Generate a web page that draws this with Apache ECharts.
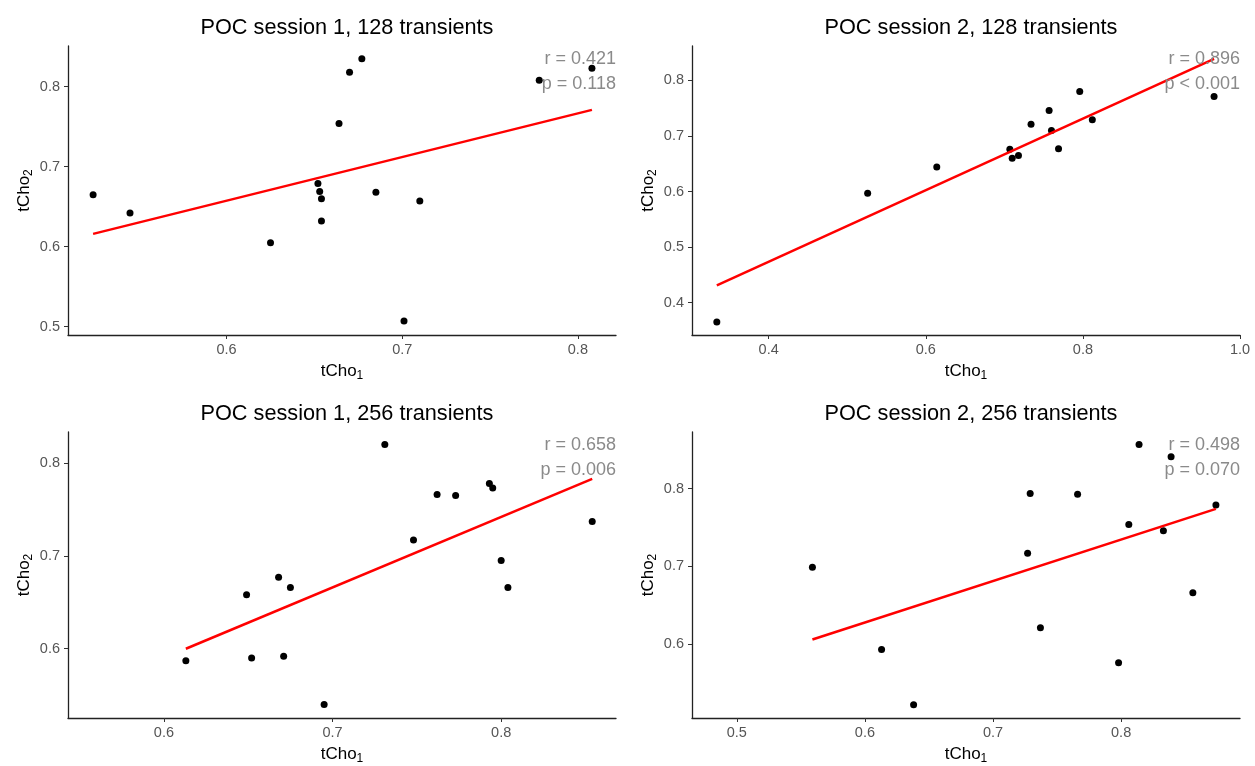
<!DOCTYPE html>
<html>
<head>
<meta charset="utf-8">
<script src="https://cdn.jsdelivr.net/npm/echarts@6/dist/echarts.min.js"></script>
<style>
html,body{margin:0;padding:0;background:#fff;}
#c{width:1255px;height:766px;}
</style>
</head>
<body>
<div id="c"></div>
<script>
// ---- Data ----
const titles = ["POC session 1, 128 transients", "POC session 2, 128 transients",
                "POC session 1, 256 transients", "POC session 2, 256 transients"];
const stats_r = ["r = 0.421", "r = 0.896", "r = 0.658", "r = 0.498"];
const stats_p = ["p = 0.118", "p < 0.001", "p = 0.006", "p = 0.070"];

const s1_128_x = [0.524, 0.545, 0.625, 0.652, 0.653, 0.654, 0.654, 0.664, 0.670, 0.677, 0.685, 0.701, 0.710, 0.778, 0.808];
const s1_128_y = [0.665, 0.642, 0.605, 0.679, 0.669, 0.660, 0.632, 0.754, 0.818, 0.835, 0.668, 0.507, 0.657, 0.808, 0.823];
const s1_128_fit = [[0.524, 0.616], [0.808, 0.771]];

const s2_128_x = [0.334, 0.526, 0.614, 0.707, 0.710, 0.718, 0.734, 0.757, 0.760, 0.769, 0.796, 0.812, 0.967];
const s2_128_y = [0.365, 0.597, 0.644, 0.676, 0.660, 0.665, 0.721, 0.746, 0.710, 0.677, 0.780, 0.729, 0.771];
const s2_128_fit = [[0.334, 0.431], [0.967, 0.839]];

const s1_256_x = [0.613, 0.649, 0.652, 0.668, 0.671, 0.675, 0.695, 0.731, 0.748, 0.762, 0.773, 0.793, 0.795, 0.800, 0.804, 0.854];
const s1_256_y = [0.587, 0.658, 0.590, 0.677, 0.592, 0.666, 0.540, 0.820, 0.717, 0.766, 0.765, 0.778, 0.773, 0.695, 0.666, 0.737];
const s1_256_fit = [[0.613, 0.600], [0.854, 0.783]];

const s2_256_x = [0.559, 0.613, 0.638, 0.727, 0.729, 0.737, 0.766, 0.798, 0.806, 0.814, 0.833, 0.839, 0.856, 0.874];
const s2_256_y = [0.699, 0.593, 0.522, 0.717, 0.794, 0.621, 0.793, 0.576, 0.754, 0.857, 0.746, 0.841, 0.666, 0.779];
const s2_256_fit = [[0.559, 0.606], [0.874, 0.774]];

const xTicks = [[0.6, 0.7, 0.8], [0.4, 0.6, 0.8, 1.0], [0.6, 0.7, 0.8], [0.5, 0.6, 0.7, 0.8]];
const yTicks = [[0.5, 0.6, 0.7, 0.8], [0.4, 0.5, 0.6, 0.7, 0.8], [0.6, 0.7, 0.8], [0.6, 0.7, 0.8]];

// ---- Layout ----
const xs = [s1_128_x, s2_128_x, s1_256_x, s2_256_x];
const ys = [s1_128_y, s2_128_y, s1_256_y, s2_256_y];
const fits = [s1_128_fit, s2_128_fit, s1_256_fit, s2_256_fit];
const xRange = [[0.5097, 0.8217], [0.3024, 1.0], [0.5431, 0.8681], [0.465, 0.8928]];
const yRange = [[0.4896, 0.8508], [0.3417, 0.862], [0.5254, 0.8334], [0.5049, 0.873]];
const grids = [
  {left: 68, top: 46, width: 548, height: 289},
  {left: 692, top: 46, width: 548, height: 289},
  {left: 68, top: 432, width: 548, height: 289},
  {left: 692, top: 432, width: 548, height: 289}
];
const font = 'Liberation Sans, Arial, sans-serif';
const rich = {
  base: {fontSize: 17, color: '#000', fontFamily: font},
  sub: {fontSize: 12, color: '#000', fontFamily: font, padding: [9, 0, 0, 0]}
};

const option = {
  animation: false,
  backgroundColor: '#fff',
  title: titles.map((t, i) => ({
    text: t,
    left: grids[i].left + grids[i].width / 2,
    textAlign: 'center',
    top: grids[i].top - 34,
    textStyle: {fontSize: 21.7, fontWeight: 'normal', color: '#000', fontFamily: font}
  })),
  grid: grids.map(g => Object.assign({containLabel: false}, g)),
  xAxis: xs.map((_, i) => ({
    type: 'value', gridIndex: i, min: xRange[i][0], max: xRange[i][1],
    name: '{base|tCho}{sub|1}', nameLocation: 'middle', nameGap: 26,
    nameTextStyle: {rich: rich, verticalAlign: 'top'},
    axisLine: {show: true, onZero: false, lineStyle: {color: '#222', width: 1.3}},
    axisTick: {show: true, length: 4, lineStyle: {color: '#333'}, customValues: xTicks[i]},
    axisLabel: {color: '#555', fontSize: 14.5, fontFamily: font, margin: 7, customValues: xTicks[i],
      formatter: v => v.toFixed(1)},
    splitLine: {show: false}
  })),
  yAxis: ys.map((_, i) => ({
    type: 'value', gridIndex: i, min: yRange[i][0], max: yRange[i][1],
    name: '{base|tCho}{sub|2}', nameLocation: 'middle', nameGap: 33, nameRotate: 90,
    nameTextStyle: {rich: rich},
    axisLine: {show: true, onZero: false, lineStyle: {color: '#222', width: 1.3}},
    axisTick: {show: true, length: 4, lineStyle: {color: '#333'}, customValues: yTicks[i]},
    axisLabel: {color: '#555', fontSize: 14.5, fontFamily: font, margin: 8, customValues: yTicks[i],
      formatter: v => v.toFixed(1)},
    splitLine: {show: false}
  })),
  series: [].concat(
    xs.map((x, i) => ({
      type: 'scatter', xAxisIndex: i, yAxisIndex: i, z: 3,
      symbolSize: 7, itemStyle: {color: '#000', opacity: 1},
      data: x.map((v, k) => [v, ys[i][k]])
    })),
    fits.map((f, i) => ({
      type: 'line', xAxisIndex: i, yAxisIndex: i, z: 4,
      symbol: 'none', lineStyle: {color: '#ff0000', width: 2.5},
      data: f
    }))
  ),
  graphic: [].concat(
    grids.map((g, i) => ({
      type: 'text', right: 1255 - (g.left + g.width), top: g.top + 1, z: 10,
      style: {text: stats_r[i] + '\n' + stats_p[i], fill: '#8a8a8a', font: '18px ' + font,
        textAlign: 'right', lineHeight: 25}
    }))
  )
};
echarts.init(document.getElementById('c'), null, {renderer: 'canvas'}).setOption(option);
</script>
</body>
</html>
